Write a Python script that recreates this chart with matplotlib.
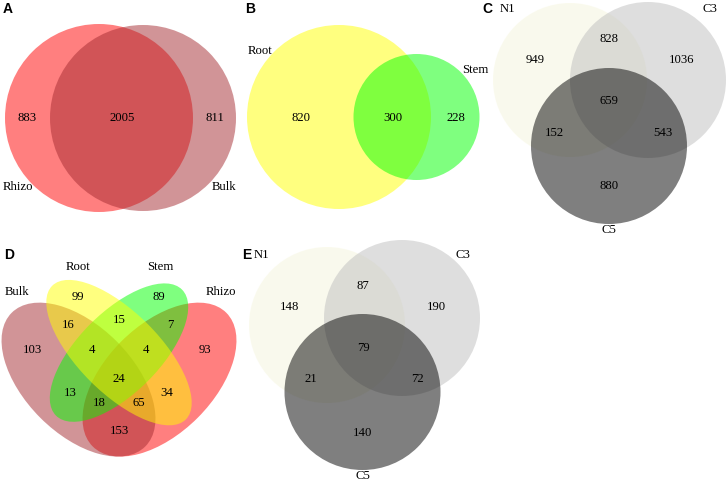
import matplotlib
matplotlib.use("Agg")
import matplotlib.pyplot as plt
from matplotlib.patches import Circle, Ellipse

# ---- data -------------------------------------------------------------
a_sets = ["Rhizo", "Bulk"]
a_counts = [883, 2005, 811]                 # Rhizo only, both, Bulk only

b_sets = ["Root", "Stem"]
b_counts = [820, 300, 228]                  # Root only, both, Stem only

c_sets = ["N1", "C3", "C5"]
# N1, N1&C3, C3, all, N1&C5, C3&C5, C5
c_counts = [949, 828, 1036, 659, 152, 543, 880]

d_sets = ["Bulk", "Root", "Stem", "Rhizo"]
# Root, Stem, Bulk&Root, Root&Stem, Stem&Rhizo, Bulk, Rhizo,
# Bulk&Root&Stem, Root&Stem&Rhizo, all, Bulk&Stem, Root&Rhizo,
# Bulk&Stem&Rhizo, Bulk&Root&Rhizo, Bulk&Rhizo
d_counts = [99, 89, 16, 15, 7, 103, 93, 4, 4, 24, 13, 34, 18, 65, 153]

e_sets = ["N1", "C3", "C5"]
e_counts = [148, 87, 190, 79, 21, 72, 140]

# ---- style / layout ---------------------------------------------------
colors = {
    "Rhizo": "#FF0000", "Bulk": "#A52B31", "Root": "#FFFF00",
    "Stem": "#00FF00", "N1": "#F5F5DC", "C3": "#BEBEBE", "C5": "#000000",
}
serif = ["Liberation Serif", "DejaVu Serif"]
num_fs = 9.2
lab_fs = 9.2

fig = plt.figure(figsize=(7.27, 4.82), dpi=100)
ax = fig.add_axes([0, 0, 1, 1])
ax.set_xlim(0, 727)
ax.set_ylim(482, 0)
ax.axis("off")


def circle(xy, r, name):
    ax.add_patch(Circle(xy, r, facecolor=colors[name], alpha=0.5,
                        edgecolor="none"))


def put(xy, s, fs=num_fs):
    ax.text(xy[0], xy[1], str(s), ha="center", va="center", fontsize=fs,
            family=serif, color="black")


def letter(xy, s):
    ax.text(xy[0], xy[1], s, ha="center", va="center", fontsize=10,
            fontweight="bold", family=["Liberation Sans", "DejaVu Sans"])


# A
circle((99, 118), 94, "Rhizo")
circle((143, 118), 93, "Bulk")
for pos, v in zip([(27, 118), (122, 118), (215, 118)], a_counts):
    put(pos, v)
for pos, s in zip([(18, 187), (224, 187)], a_sets):
    put(pos, s, lab_fs)
letter((8, 9), "A")

# B
circle((339, 117), 92, "Root")
circle((416.5, 117), 63, "Stem")
for pos, v in zip([(301, 118), (393, 118), (456, 118)], b_counts):
    put(pos, v)
for pos, s in zip([(260, 51), (475, 70)], b_sets):
    put(pos, s, lab_fs)
letter((250, 9), "B")

# C
circle((570, 80), 77, "N1")
circle((648, 80), 78, "C3")
circle((609, 146), 78, "C5")
c_pos = [(535, 60), (609, 39), (682, 60), (609, 101), (554, 133),
         (663, 133), (609, 186)]
for pos, v in zip(c_pos, c_counts):
    put(pos, v)
for pos, s in zip([(507, 9), (710, 9), (609, 230)], c_sets):
    put(pos, s, lab_fs)
letter((487, 9), "C")

# D  (quad venn ellipses, unit square mapped to pixels)
sc, x0, y0 = 270, 119, 506.5
quad = [  # name, cx, cy, a, b, angle
    ("Rhizo", 0.65, 0.47, 0.35, 0.20, -45),
    ("Bulk", 0.35, 0.47, 0.35, 0.20, 45),
    ("Stem", 0.50, 0.57, 0.33, 0.15, -45),
    ("Root", 0.50, 0.57, 0.35, 0.15, 45),
]
for name, cx, cy, a, b, ang in quad:
    ax.add_patch(Ellipse((x0 + (cx - 0.5) * sc, y0 - cy * sc),
                         2 * a * sc, 2 * b * sc, angle=ang,
                         facecolor=colors[name], alpha=0.5,
                         edgecolor="none"))
d_pos = [(78, 297), (159, 297), (68, 325), (119, 320), (170, 325),
         (32, 350), (205, 350), (92, 350), (146, 350), (119, 379),
         (70, 393), (167, 393), (99, 403), (139, 403), (119, 431)]
for pos, v in zip(d_pos, d_counts):
    put(pos, v)
for pos, s in zip([(17, 292), (78, 267), (160, 267), (221, 292)], d_sets):
    put(pos, s, lab_fs)
letter((9, 255), "D")

# E
circle((327, 325), 78, "N1")
circle((402, 318), 78, "C3")
circle((362.5, 392), 78, "C5")
e_pos = [(290, 307), (363, 286), (436, 307), (363, 348), (311, 379),
         (417, 379), (363, 433)]
for pos, v in zip(e_pos, e_counts):
    put(pos, v)
for pos, s in zip([(261, 255), (463, 255), (363, 476)], e_sets):
    put(pos, s, lab_fs)
letter((247, 255), "E")

fig.savefig("out.png", dpi=100)
